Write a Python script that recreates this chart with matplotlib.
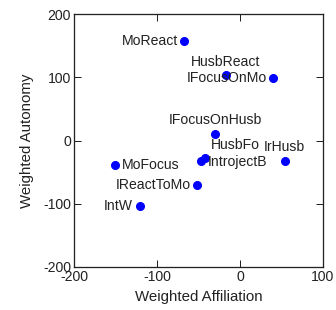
import matplotlib
matplotlib.use("Agg")
import matplotlib.pyplot as plt

names = ["MoReact", "HusbReact", "IFocusOnMo", "IFocusOnHusb", "HusbFo",
         "IntrojectB", "IrHusb", "MoFocus", "IReactToMo", "IntW"]
affiliation = [-67, -17, 40, -30, -42.5, -47, 54, -150.5, -51.5, -120.5]
autonomy = [158, 103, 99, 11, -27, -33, -33, -38.5, -70, -104]
xticks = [-200, -100, 0, 100]
yticks = [-200, -100, 0, 100, 200]

# label placement (offset in points, ha)
label_pos = {
    "MoReact": ((-6, 0), "right"),
    "HusbReact": ((0, 13), "center"),
    "IFocusOnMo": ((-6, 0), "right"),
    "IFocusOnHusb": ((0, 14), "center"),
    "HusbFo": ((6, 13), "left"),
    "IntrojectB": ((7, -1), "left"),
    "IrHusb": ((0, 14), "center"),
    "MoFocus": ((7, 0), "left"),
    "IReactToMo": ((-6, 0), "right"),
    "IntW": ((-7, 0), "right"),
}

plt.rcParams['font.family'] = ['Liberation Sans', 'DejaVu Sans']
plt.rcParams['axes.unicode_minus'] = False
FS = 14
fig = plt.figure(figsize=(336/72, 310/72), dpi=72)
ax = fig.add_axes([74/336, 43/310, (323-74)/336, (267-14)/310])

ax.plot(affiliation, autonomy, 'o', color=(0, 0, 1), markersize=8, linestyle='none')
for n, x, y in zip(names, affiliation, autonomy):
    (dx, dy), ha = label_pos[n]
    ax.annotate(n, (x, y), xytext=(dx, dy), textcoords='offset points',
                ha=ha, va='center', fontsize=FS, color='#222222')

ax.set_xlim(-200, 100)
ax.set_ylim(-200, 200)
ax.set_xticks(xticks)
ax.set_yticks(yticks)
ax.tick_params(direction='in', length=7, width=1, top=True, right=True,
               labelsize=FS, pad=3, colors='#222222')
for s in ax.spines.values():
    s.set_linewidth(1.3)
    s.set_color('#222222')
ax.set_xlabel("Weighted Affiliation", fontsize=15, color='#222222', labelpad=6)
ax.set_ylabel("Weighted Autonomy", fontsize=15, color='#222222', labelpad=9)

fig.savefig("out.png", dpi=72)
